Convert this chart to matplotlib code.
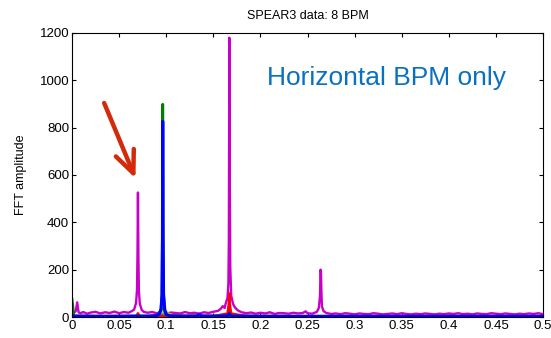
import numpy as np
import matplotlib
matplotlib.use('Agg')
import matplotlib.pyplot as plt

plt.rcParams['font.family'] = ['Liberation Sans', 'DejaVu Sans']

# ---------------------------------------------------------------------------- #
# FFT amplitude spectra of the 8 BPMs
# ---------------------------------------------------------------------------- #

mag_f = [0.000, 0.002, 0.004, 0.0055, 0.007, 0.009, 0.012, 0.016, 0.020, 0.025,
         0.030, 0.035, 0.040, 0.045, 0.050, 0.055, 0.060, 0.064, 0.066, 0.068,
         0.069, 0.0695, 0.0700, 0.0705, 0.071, 0.072, 0.074, 0.076, 0.080, 0.085,
         0.090, 0.095, 0.100, 0.105, 0.110, 0.115, 0.120, 0.125, 0.130, 0.135,
         0.140, 0.145, 0.150, 0.155, 0.158, 0.160, 0.162, 0.163, 0.165, 0.166,
         0.1665, 0.1670, 0.1675, 0.168, 0.169, 0.171, 0.173, 0.176, 0.180, 0.185,
         0.190, 0.195, 0.200, 0.205, 0.210, 0.215, 0.220, 0.225, 0.230, 0.235,
         0.240, 0.245, 0.248, 0.250, 0.255, 0.260, 0.262, 0.2633, 0.2638, 0.2643,
         0.2648, 0.2653, 0.267, 0.270, 0.275, 0.280, 0.285, 0.290, 0.295, 0.300,
         0.305, 0.310, 0.315, 0.320, 0.325, 0.330, 0.335, 0.340, 0.345, 0.350,
         0.355, 0.360, 0.365, 0.370, 0.375, 0.380, 0.385, 0.390, 0.395, 0.400,
         0.405, 0.410, 0.415, 0.420, 0.425, 0.430, 0.435, 0.440, 0.445, 0.450,
         0.455, 0.460, 0.465, 0.470, 0.475, 0.480, 0.485, 0.490, 0.495, 0.500]
mag_a = [14, 18, 25, 62, 20, 16, 21, 14, 19, 22,
         15, 20, 17, 23, 16, 21, 18, 26, 32, 60,
         115, 260, 526, 250, 110, 55, 30, 22, 18, 21,
         16, 20, 14, 19, 17, 15, 21, 16, 18, 14,
         20, 17, 22, 26, 35, 46, 38, 55, 80, 140,
         320, 1180, 560, 210, 90, 55, 40, 28, 20, 16,
         19, 14, 18, 15, 20, 13, 17, 16, 14, 18,
         15, 17, 24, 16, 14, 22, 38, 90, 200, 190,
         100, 45, 25, 17, 13, 15, 12, 16, 14, 11,
         15, 13, 12, 16, 14, 11, 13, 15, 12, 16,
         13, 11, 14, 12, 15, 13, 11, 14, 12, 15,
         13, 16, 12, 14, 11, 15, 13, 12, 16, 14,
         12, 15, 13, 11, 14, 12, 15, 13, 16, 12]

blue_f = [0.000, 0.030, 0.060, 0.080, 0.090, 0.093, 0.0945, 0.0955, 0.0960, 0.0963,
          0.0967, 0.0972, 0.0985, 0.100, 0.104, 0.120, 0.133, 0.135, 0.137, 0.150,
          0.165, 0.167, 0.169, 0.200, 0.300, 0.400, 0.500]
blue_a = [4, 3, 4, 3, 6, 14, 35, 90, 330, 827,
          340, 95, 30, 10, 5, 3, 4, 12, 4, 3,
          5, 14, 4, 3, 3, 3, 3]

green_f = [0.000, 0.001, 0.002, 0.050, 0.090, 0.0945, 0.0955, 0.0960, 0.0963, 0.0967,
           0.0972, 0.0985, 0.102, 0.200, 0.500]
green_a = [75, 40, 4, 3, 5, 30, 95, 360, 899, 350,
           90, 25, 5, 3, 3]

red_f = [0.000, 0.050, 0.068, 0.070, 0.072, 0.100, 0.150, 0.165, 0.1665, 0.1670,
         0.1675, 0.169, 0.185, 0.300, 0.500]
red_a = [4, 3, 4, 16, 4, 5, 4, 15, 60, 100,
         55, 15, 4, 3, 3]

yellow_f = [0.000, 0.060, 0.085, 0.090, 0.094, 0.097, 0.100, 0.103, 0.108, 0.115,
            0.200, 0.500]
yellow_a = [2, 2, 3, 7, 16, 26, 22, 13, 6, 3,
            2, 2]

black_f = [0.000, 0.060, 0.069, 0.070, 0.071, 0.100, 0.165, 0.1665, 0.1670, 0.1675,
           0.169, 0.300, 0.500]
black_a = [2, 2, 3, 9, 3, 4, 5, 25, 42, 22,
           5, 2, 2]

cyan_f = [0.000, 0.090, 0.0955, 0.0963, 0.0972, 0.105, 0.500]
cyan_a = [2, 2, 12, 35, 12, 2, 2]

xticks = [0, 0.05, 0.1, 0.15, 0.2, 0.25, 0.3, 0.35, 0.4, 0.45, 0.5]
xtick_labels = ['0', '0.05', '0.1', '0.15', '0.2', '0.25', '0.3', '0.35', '0.4', '0.45', '0.5']
yticks = [0, 200, 400, 600, 800, 1000, 1200]

# ---------------------------------------------------------------------------- #

fig = plt.figure(figsize=(5.51, 3.38), dpi=100)
ax = fig.add_axes([0.1307, 0.0621, 0.8548, 0.8403])

lw = 1.7
ax.plot(mag_f, mag_a, color='#c800c8', lw=lw)
ax.plot(cyan_f, cyan_a, color='#00bfbf', lw=lw)
ax.plot(yellow_f, yellow_a, color='#c8c800', lw=lw)
ax.plot(black_f, black_a, color='#404040', lw=lw)
ax.plot(red_f, red_a, color='#ff0000', lw=lw)
ax.plot(green_f, green_a, color='#008000', lw=2.0)
ax.plot(blue_f, blue_a, color='#0000ff', lw=2.2)

ax.set_xlim(0, 0.5)
ax.set_ylim(0, 1200)
ax.set_xticks(xticks)
ax.set_xticklabels(xtick_labels)
ax.set_yticks(yticks)
ax.tick_params(direction='in', length=3, width=0.8, labelsize=9.5,
               top=True, right=True, pad=2)
for s in ax.spines.values():
    s.set_linewidth(0.8)

ax.set_title('SPEAR3 data: 8 BPM', fontsize=9, pad=10)
ax.set_ylabel('FFT amplitude', fontsize=9, labelpad=9)

ax.text(0.2075, 1008, 'Horizontal BPM only', fontsize=19, color='#0a70c0',
        va='center', ha='left')

ax.annotate('', xy=(0.0685, 575), xytext=(0.033, 915),
            arrowprops=dict(arrowstyle='->,head_length=1.6,head_width=0.7',
                            color='#d42a0c', lw=3.2))

plt.savefig('out.png', dpi=100)
